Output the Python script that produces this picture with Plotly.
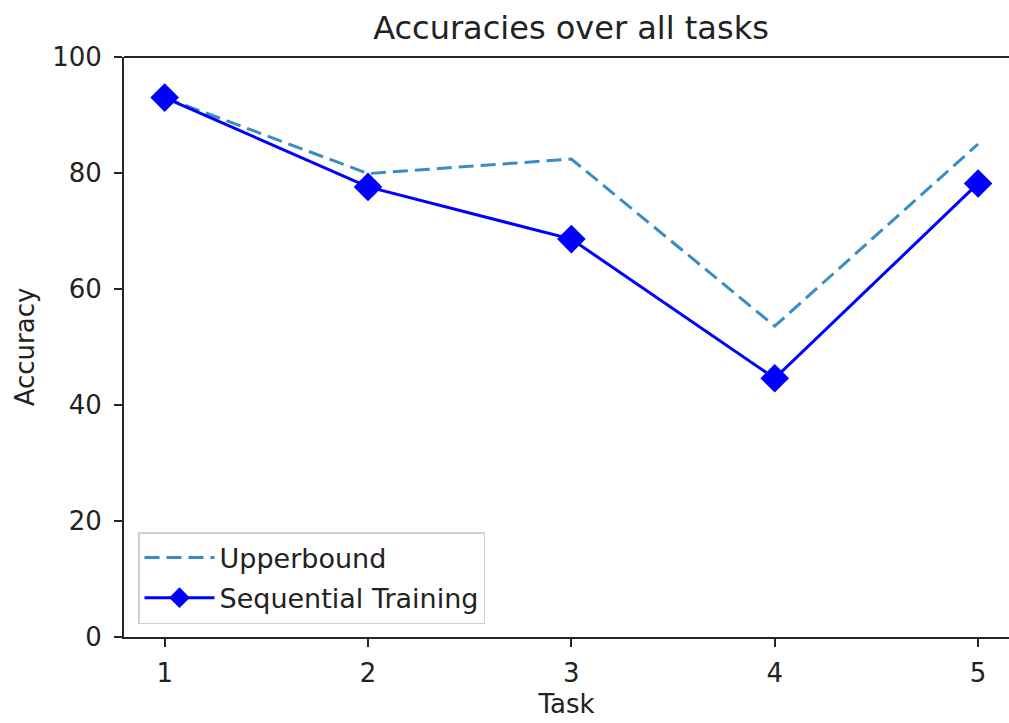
import plotly.graph_objects as go

# Accuracy per task
tasks = [1, 2, 3, 4, 5]
upperbound = [93.0, 79.9, 82.4, 53.6, 85.0]
sequential = [93.0, 77.6, 68.6, 44.6, 78.2]

FONT = "DejaVu Sans"
TXT = "#222222"
AXC = "#262626"

fig = go.Figure()

fig.add_trace(go.Scatter(
    x=tasks, y=upperbound, mode="lines", name="Upperbound",
    line=dict(color="#3a8cc4", width=3, dash="15px,7px"),
    legendgroup="a",
))
fig.add_trace(go.Scatter(
    x=tasks, y=sequential, mode="lines+markers", name="Sequential Training",
    line=dict(color="#0000ff", width=3),
    marker=dict(symbol="diamond", size=22, color="#0000ff"),
    legendgroup="b",
))

W, H = 1009, 723
L, R, T, B = 124, 0, 57, 86

fig.update_layout(
    width=W, height=H,
    margin=dict(l=L, r=R, t=T, b=B),
    paper_bgcolor="white", plot_bgcolor="white",
    font=dict(family=FONT, size=26, color=TXT),
    title=dict(text="Accuracies over all tasks", font=dict(size=32, color=TXT),
               xref="paper", x=(571 - L) / (W - L - R), xanchor="center",
               yref="container", y=1 - 28 / H, yanchor="middle"),
    showlegend=True,
    legend=dict(
        x=14 / (W - L - R), y=13 / (H - T - B), xanchor="left", yanchor="bottom",
        bgcolor="rgba(255,255,255,0.85)", bordercolor="#d0d0d0", borderwidth=1.5,
        font=dict(size=27, color=TXT), traceorder="grouped", tracegroupgap=2,
        itemwidth=70,
    ),
    xaxis=dict(
        range=[0.8, 5.152], tickvals=tasks, ticktext=[str(t) for t in tasks],
        showgrid=False, zeroline=False,
        showline=True, linecolor=AXC, linewidth=2,
        ticks="outside", ticklen=8, tickwidth=2, tickcolor=AXC,
        ticklabelstandoff=4,
        title=dict(text="Task", standoff=8, font=dict(size=26)),
    ),
    yaxis=dict(
        range=[0, 100], tickvals=[0, 20, 40, 60, 80, 100],
        showgrid=False, zeroline=False,
        showline=True, linecolor=AXC, linewidth=2,
        ticks="outside", ticklen=8, tickwidth=2, tickcolor=AXC,
        ticklabelstandoff=7,
        title=dict(text="Accuracy", standoff=10, font=dict(size=26)),
    ),
)

# top spine of the axes frame
fig.add_shape(type="line", xref="paper", yref="paper", x0=0, x1=1, y0=1, y1=1,
              line=dict(color=AXC, width=2))

fig.write_html("out.html")
